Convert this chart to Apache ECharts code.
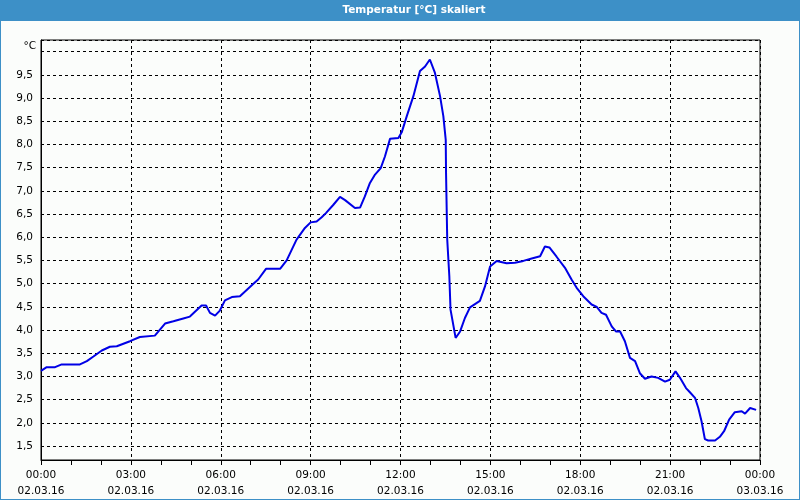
<!DOCTYPE html>
<html>
<head>
<meta charset="utf-8">
<script src="https://cdn.jsdelivr.net/npm/echarts@6/dist/echarts.min.js"></script>
<style>
html,body{margin:0;padding:0;background:#fbfdfb;}
#chart{width:800px;height:500px;}
</style>
</head>
<body>
<div id="chart"></div>
<script>
// Time in hours since 02.03.16 00:00
var hours = [0.00,0.19,0.47,0.69,1.30,1.53,1.75,2.03,2.30,2.53,2.97,3.30,3.80,4.14,4.42,4.75,4.97,5.36,5.51,5.64,5.81,5.97,6.14,6.37,6.64,7.09,7.25,7.51,7.98,8.20,8.53,8.81,9.00,9.20,9.37,9.51,9.76,9.98,10.15,10.48,10.65,10.81,10.98,11.15,11.34,11.48,11.65,11.93,12.04,12.21,12.43,12.65,12.82,12.98,13.15,13.32,13.43,13.51,13.52,13.56,13.63,13.67,13.84,13.99,14.15,14.32,14.65,14.82,14.99,15.21,15.54,15.82,16.10,16.38,16.66,16.82,16.97,17.21,17.49,17.71,17.88,18.10,18.38,18.55,18.71,18.86,19.05,19.19,19.33,19.49,19.66,19.83,19.99,20.16,20.38,20.60,20.83,20.99,21.18,21.33,21.53,21.66,21.83,21.94,22.05,22.16,22.27,22.50,22.66,22.80,22.97,23.16,23.39,23.50,23.67,23.87];
var temps = [3.12,3.20,3.20,3.26,3.26,3.33,3.43,3.56,3.64,3.65,3.76,3.85,3.88,4.14,4.19,4.25,4.29,4.53,4.53,4.37,4.31,4.42,4.64,4.71,4.73,5.00,5.09,5.32,5.32,5.50,5.95,6.20,6.32,6.34,6.43,6.52,6.70,6.87,6.80,6.63,6.64,6.88,7.17,7.35,7.49,7.74,8.12,8.14,8.26,8.61,9.04,9.58,9.68,9.83,9.54,9.04,8.61,8.10,7.39,5.95,5.16,4.44,3.83,3.97,4.26,4.49,4.63,4.94,5.37,5.49,5.44,5.45,5.49,5.54,5.59,5.80,5.78,5.58,5.34,5.09,4.91,4.73,4.55,4.50,4.37,4.33,4.08,3.97,3.97,3.76,3.40,3.33,3.07,2.95,3.00,2.97,2.89,2.93,3.11,2.97,2.75,2.66,2.54,2.32,2.03,1.65,1.62,1.62,1.70,1.82,2.07,2.23,2.25,2.20,2.32,2.28];
var xTickHours = [0,3,6,9,12,15,18,21,24];
var xTimeLabels = ['00:00','03:00','06:00','09:00','12:00','15:00','18:00','21:00','00:00'];
var xDateLabels = ['02.03.16','02.03.16','02.03.16','02.03.16','02.03.16','02.03.16','02.03.16','02.03.16','03.03.16'];
var titleText = 'Temperatur [°C] skaliert';
var unitText = '°C';

var seriesData = hours.map(function(h, i){ return [h, temps[i]]; });

var chart = echarts.init(document.getElementById('chart'), null, {renderer:'canvas'});
var FONT = 'DejaVu Sans';
chart.setOption({
  animation: false,
  backgroundColor: '#fbfdfb',
  textStyle: {fontFamily: FONT},
  graphic: [
    {type:'rect', shape:{x:0,y:0,width:800,height:21}, style:{fill:'#3d90c7'}, silent:true},
    {type:'rect', shape:{x:0,y:0,width:1,height:500}, style:{fill:'#3d90c7'}, silent:true},
    {type:'rect', shape:{x:799,y:0,width:1,height:500}, style:{fill:'#3d90c7'}, silent:true},
    {type:'rect', shape:{x:0,y:499,width:800,height:1}, style:{fill:'#3d90c7'}, silent:true},
    {type:'text', x:414, y:10, style:{text:titleText, fill:'#ffffff', font:'bold 10.5px "DejaVu Sans"', align:'center', verticalAlign:'middle', textAlign:'center', textVerticalAlign:'middle'}, silent:true}
  ],
  grid: {left:41, right:40, top:40, bottom:40, show:true, borderColor:'#000', borderWidth:1, backgroundColor:'transparent'},
  xAxis: {
    type:'value', min:0, max:24, interval:3,
    axisLine:{show:true, lineStyle:{color:'#000', width:1}},
    axisTick:{show:true, length:5, lineStyle:{color:'#000'}},
    minorTick:{show:true, splitNumber:3, length:5, lineStyle:{color:'#000'}},
    splitLine:{show:true, lineStyle:{color:'#000', type:[3,3], width:1}},
    axisLabel:{
      margin:7, color:'#000', fontSize:10.5, fontFamily:FONT, lineHeight:16,
      formatter:function(v){
        var i = xTickHours.indexOf(Math.round(v));
        if (i < 0) return '';
        return xTimeLabels[i] + '\n' + xDateLabels[i];
      }
    }
  },
  yAxis: {
    type:'value', min:1.2, max:10.25, splitNumber:18,
    name: unitText, nameLocation:'end', nameGap:-6,
    nameTextStyle:{color:'#000', fontSize:10.5, fontFamily:FONT, align:'right', verticalAlign:'middle', padding:[0,5,0,0]},
    axisLine:{show:true, lineStyle:{color:'#000', width:1}},
    axisTick:{show:false},
    splitLine:{show:true, lineStyle:{color:'#000', type:[3,3], width:1}},
    axisLabel:{
      margin:8, color:'#000', fontSize:10.5, fontFamily:FONT,
      formatter:function(v){
        var r = Math.round(v*2)/2;
        if (Math.abs(r - v) > 1e-6) return '';
        if (r >= 10) return '';
        return r.toFixed(1).replace('.', ',');
      }
    }
  },
  series: [{
    type:'line', data:seriesData, showSymbol:false, symbol:'none',
    lineStyle:{color:'#0000e6', width:2}, itemStyle:{color:'#0000e6'}
  }]
});
</script>
</body>
</html>
